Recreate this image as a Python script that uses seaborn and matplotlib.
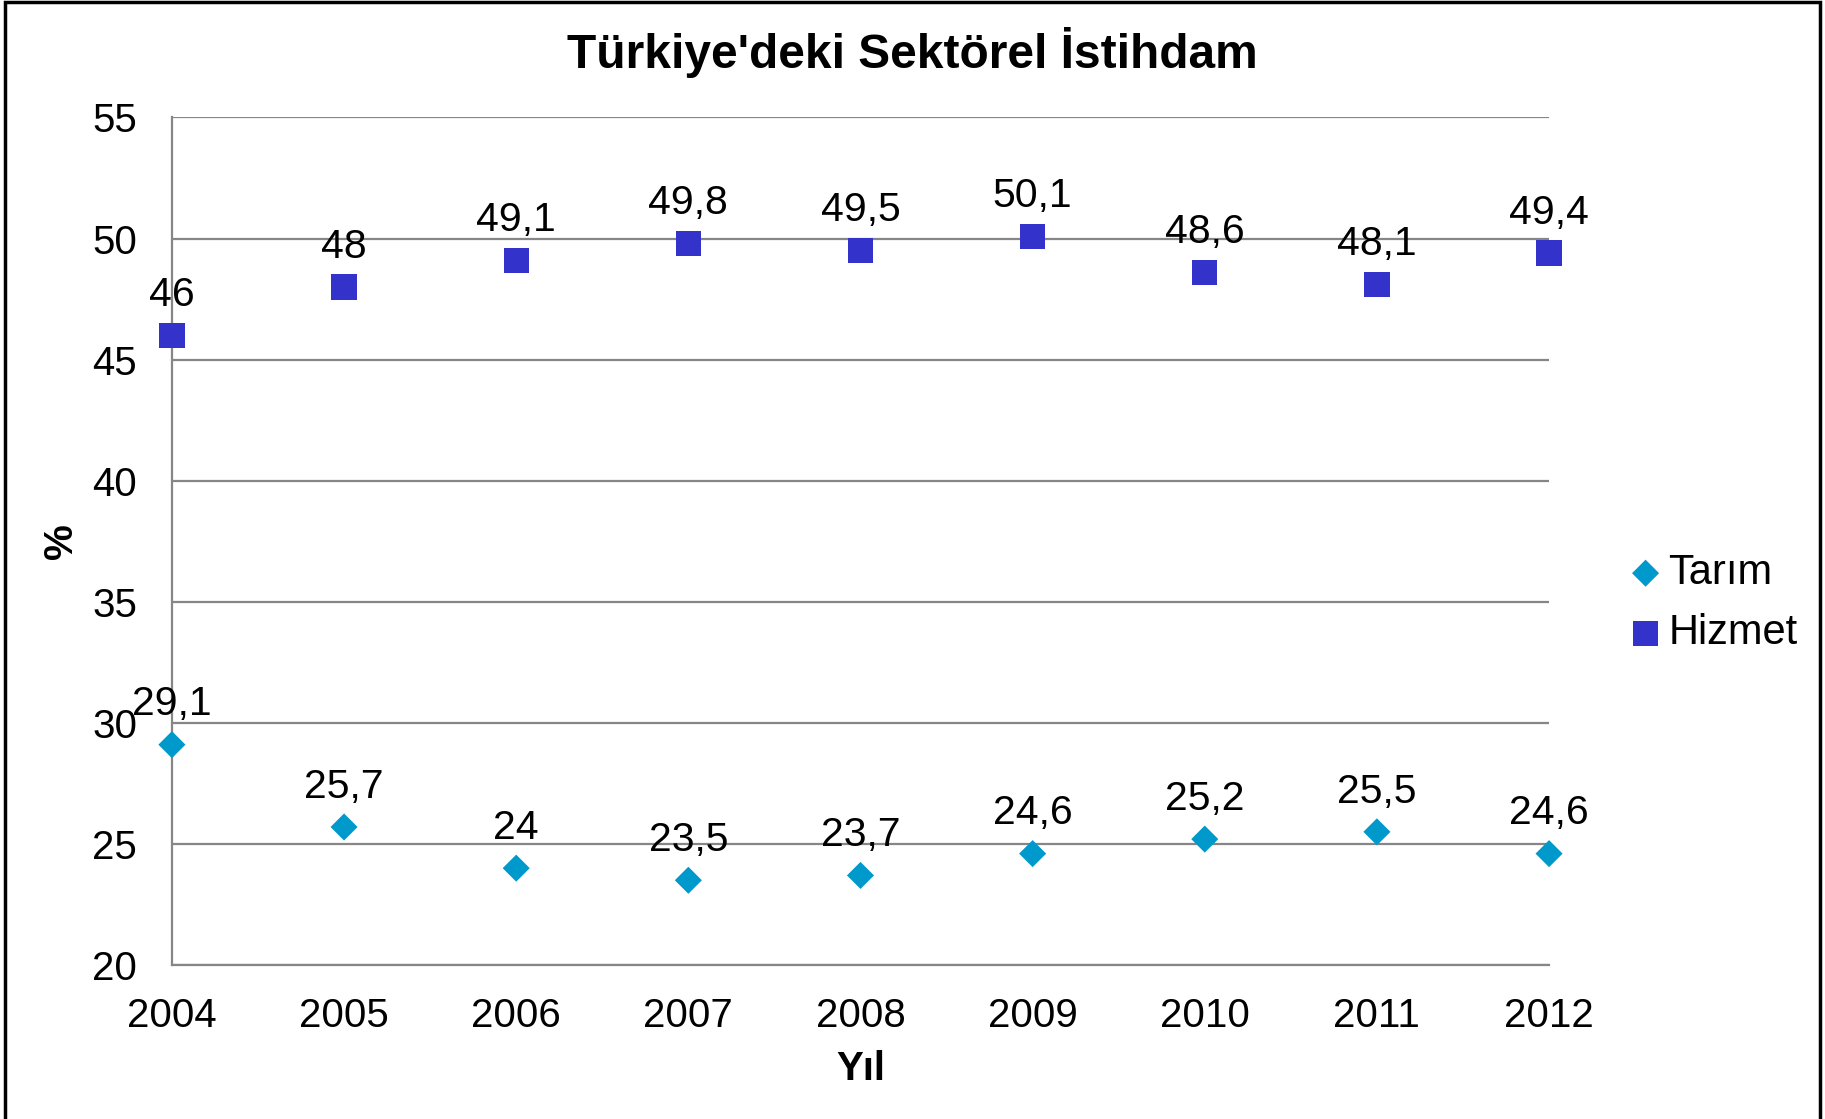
import pandas as pd
import matplotlib.pyplot as plt
import seaborn as sns
from matplotlib.patches import Rectangle

# data
years = [2004, 2005, 2006, 2007, 2008, 2009, 2010, 2011, 2012]
tarim = [29.1, 25.7, 24.0, 23.5, 23.7, 24.6, 25.2, 25.5, 24.6]
hizmet = [46.0, 48.0, 49.1, 49.8, 49.5, 50.1, 48.6, 48.1, 49.4]
series_names = ['Tarım', 'Hizmet']
y_ticks = [20, 25, 30, 35, 40, 45, 50, 55]

df = pd.DataFrame({
    'Yıl': years * 2,
    'değer': tarim + hizmet,
    'seri': [series_names[0]] * len(years) + [series_names[1]] * len(years),
})

sns.set_style('white')
plt.rcParams['font.family'] = ['Liberation Sans', 'DejaVu Sans']
plt.rcParams['text.color'] = 'black'
plt.rcParams['xtick.color'] = 'black'
plt.rcParams['ytick.color'] = 'black'
plt.rcParams['axes.labelcolor'] = 'black'

colors = {'Tarım': '#0099CC', 'Hizmet': '#3333CC'}
markers = {'Tarım': 'D', 'Hizmet': 's'}
sizes = {'Tarım': 190, 'Hizmet': 330}
fs = 29

fig = plt.figure(figsize=(18.25, 11.19), dpi=100)
ax = fig.add_axes([0.0942, 0.1376, 0.8488 - 0.0942, 0.895 - 0.1376])

for name in series_names:
    sub = df[df['seri'] == name]
    sns.scatterplot(data=sub, x='Yıl', y='değer', color=colors[name],
                    marker=markers[name], s=sizes[name], edgecolor='none',
                    ax=ax, label=name, zorder=3, clip_on=False)
    for x, y in zip(sub['Yıl'], sub['değer']):
        txt = f'{y:g}'.replace('.', ',')
        ax.annotate(txt, (x, y), xytext=(0, 29), textcoords='offset points',
                    ha='center', va='center', fontsize=fs + 0.5, color='black', zorder=4)

ax.set_xlim(2004, 2012)
ax.set_ylim(20, 55)
ax.set_yticks(y_ticks)
ax.set_xticks(years)
ax.yaxis.grid(True, color='#868686', linewidth=1.6)
ax.set_axisbelow(True)
ax.tick_params(axis='y', length=0, labelsize=fs, pad=25)
ax.tick_params(axis='x', length=0, labelsize=fs, pad=23)
for side in ['top', 'right']:
    ax.spines[side].set_visible(False)
for side in ['left', 'bottom']:
    ax.spines[side].set_color('#868686')
    ax.spines[side].set_linewidth(1.6)

ax.set_xlabel('Yıl', fontsize=fs, fontweight='bold', labelpad=11)
ax.set_ylabel('%', fontsize=fs, fontweight='bold', labelpad=9)

handles, labels = ax.get_legend_handles_labels()
leg = ax.legend(handles, labels, loc='center left', bbox_to_anchor=(0.872, 0.461),
                bbox_transform=fig.transFigure, frameon=False, fontsize=fs + 1,
                handlelength=0.8, handletextpad=0.15, labelspacing=0.48, markerscale=1.0)

fig.suptitle("Türkiye'deki Sektörel İstihdam", x=0.5, y=0.953, va='center',
             fontsize=34.5, fontweight='bold', color='black')

fig.patches.append(Rectangle((0.003, -0.05), 0.994, 1.048, transform=fig.transFigure,
                             fill=False, edgecolor='black', linewidth=2.5))

fig.savefig('out.png', dpi=100)
